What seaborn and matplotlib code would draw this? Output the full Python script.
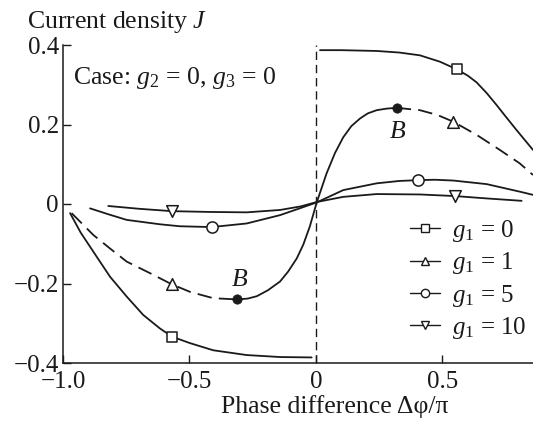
import numpy as np
import pandas as pd
import matplotlib
matplotlib.use("Agg")
import matplotlib.pyplot as plt
from matplotlib.lines import Line2D
import seaborn as sns

# ---------------- data ----------------
# g1 = 0 (solid, squares), discontinuous at 0
g0_left_x = [-0.972, -0.93, -0.880, -0.814, -0.748, -0.683, -0.617, -0.568, -0.498, -0.406, -0.274, -0.142, -0.017]
g0_left_y = [-0.023, -0.072, -0.120, -0.183, -0.233, -0.279, -0.313, -0.334, -0.350, -0.368, -0.380, -0.385, -0.386]
g0_right_x = [0.016, 0.10, 0.24, 0.33, 0.411, 0.49, 0.556, 0.60, 0.635, 0.675, 0.714, 0.75, 0.793, 0.858]
g0_right_y = [0.387, 0.387, 0.385, 0.381, 0.374, 0.358, 0.339, 0.323, 0.306, 0.279, 0.249, 0.220, 0.186, 0.136]

# g1 = 1 (dashed outside B points, solid between)
g1_left_x = [-0.966, -0.880, -0.814, -0.748, -0.656, -0.570, -0.498, -0.406, -0.313]
g1_left_y = [-0.023, -0.078, -0.112, -0.145, -0.174, -0.202, -0.221, -0.237, -0.240]
g1_mid_x = [-0.313, -0.27, -0.234, -0.19, -0.142, -0.11, -0.076, -0.05, -0.024, 0.003,
            0.042, 0.075, 0.108, 0.14, 0.174, 0.205, 0.240, 0.28, 0.319]
g1_mid_y = [-0.240, -0.238, -0.232, -0.217, -0.195, -0.170, -0.137, -0.102, -0.056, 0.004,
            0.077, 0.128, 0.168, 0.196, 0.215, 0.228, 0.236, 0.240, 0.242]
g1_right_x = [0.319, 0.411, 0.48, 0.543, 0.635, 0.727, 0.806, 0.858]
g1_right_y = [0.242, 0.236, 0.224, 0.207, 0.174, 0.136, 0.102, 0.073]

# g1 = 5 (solid, circles)
g5_x = [-0.893, -0.82, -0.748, -0.617, -0.538, -0.412, -0.274, -0.142, -0.06, 0.003, 0.108, 0.24, 0.33, 0.405, 0.47, 0.543, 0.675, 0.806, 0.858]
g5_y = [-0.011, -0.026, -0.040, -0.051, -0.056, -0.058, -0.049, -0.028, -0.010, 0.004, 0.035, 0.052, 0.058, 0.060, 0.061, 0.059, 0.050, 0.031, 0.023]

# g1 = 10 (solid, down-triangles)
g10_x = [-0.821, -0.70, -0.570, -0.420, -0.274, -0.142, -0.06, 0.003, 0.108, 0.24, 0.411, 0.549, 0.675, 0.813]
g10_y = [-0.005, -0.012, -0.018, -0.020, -0.021, -0.015, -0.006, 0.005, 0.018, 0.025, 0.024, 0.020, 0.014, 0.008]

# marker positions
sq_x, sq_y = [-0.568, 0.556], [-0.334, 0.339]
tri_x, tri_y = [-0.570, 0.543], [-0.202, 0.207]
circ_x, circ_y = [-0.412, 0.405], [-0.058, 0.060]
tdn_x, tdn_y = [-0.570, 0.549], [-0.018, 0.020]
B_x, B_y = [-0.313, 0.319], [-0.240, 0.242]

legend_labels = ["$g_1$ = 0", "$g_1$ = 1", "$g_1$ = 5", "$g_1$ = 10"]
legend_markers = ["s", "^", "o", "v"]

xticks = [-1.0, -0.5, 0.0, 0.5]
xticklabels = ["\u22121.0", "\u22120.5", "0", "0.5"]
yticks = [-0.4, -0.2, 0.0, 0.2, 0.4]
yticklabels = ["\u22120.4", "\u22120.2", "0", "0.2", "0.4"]

# ---------------- style ----------------
sns.set_style("ticks")
plt.rcParams["font.family"] = ["Liberation Serif", "DejaVu Serif"]
plt.rcParams["mathtext.fontset"] = "custom"
plt.rcParams["mathtext.rm"] = "Liberation Serif"
plt.rcParams["mathtext.it"] = "Liberation Serif:italic"
plt.rcParams["axes.unicode_minus"] = True

INK = "#1a1a1a"
FS = 18.5
TFS = 18
LW = 1.3

fig = plt.figure(figsize=(5.33, 4.21), dpi=100)
ax = fig.add_axes([63 / 533, 1 - 363 / 421, 1 - 63 / 533, (363 - 45) / 421])


def line(x, y, ls="-"):
    sns.lineplot(x=x, y=y, ax=ax, sort=False, estimator=None, color=INK,
                 linewidth=LW, linestyle=ls, legend=False)


dash = (0, (8, 4))
line(g0_left_x, g0_left_y)
line(g0_right_x, g0_right_y)
line(g1_left_x, g1_left_y, dash)
line(g1_mid_x, g1_mid_y)
line(g1_right_x, g1_right_y, dash)
line(g5_x, g5_y)
line(g10_x, g10_y)

ax.axvline(0, color=INK, lw=1.0, ls=(0, (6, 3.5)), zorder=1)

mk = dict(ax=ax, color="white", edgecolor=INK, linewidth=1.1, zorder=5, legend=False)
sns.scatterplot(x=sq_x, y=sq_y, marker="s", s=60, **mk)
sns.scatterplot(x=tri_x, y=tri_y, marker="^", s=70, **mk)
sns.scatterplot(x=circ_x, y=circ_y, marker="o", s=65, **mk)
sns.scatterplot(x=tdn_x, y=tdn_y, marker="v", s=70, **mk)
sns.scatterplot(x=B_x, y=B_y, marker="o", s=45, ax=ax, color=INK, edgecolor=INK,
                zorder=6, legend=False)

ax.text(B_x[0] + 0.01, B_y[0] + 0.05, "B", fontsize=FS, style="italic", color=INK,
        ha="center", va="center")
ax.text(B_x[1] + 0.005, B_y[1] - 0.06, "B", fontsize=FS, style="italic", color=INK,
        ha="center", va="center")

ax.set_xlim(-1.0, 0.858)
ax.set_ylim(-0.4, 0.4)
ax.set_xticks(xticks)
ax.set_xticklabels(xticklabels)
ax.set_yticks(yticks)
ax.set_yticklabels(yticklabels)
ax.tick_params(direction="in", length=6, width=1.0, color=INK, labelsize=TFS,
               labelcolor=INK)
ax.tick_params(axis="x", pad=6)
ax.tick_params(axis="y", pad=3)
for s in ["top", "right"]:
    ax.spines[s].set_visible(False)
for s in ["left", "bottom"]:
    ax.spines[s].set_linewidth(1.1)
    ax.spines[s].set_color(INK)
ax.set_xlabel("")
ax.set_ylabel("")

ax.text(0.022, 0.895, "Case: $g_2$ = 0, $g_3$ = 0", transform=ax.transAxes,
        fontsize=FS, color=INK, ha="left", va="center")

fig.text(27 / 533, 1 - 28 / 421, "Current density $J$", fontsize=FS, color=INK,
         ha="left", va="baseline")
fig.text(221 / 533, 1 - 413 / 421, "Phase difference \u0394\u03c6/\u03c0", fontsize=FS,
         color=INK, ha="left", va="baseline")

handles = [Line2D([], [], color=INK, lw=1.0, marker=m, markersize=6,
                  markerfacecolor="white", markeredgecolor=INK, markeredgewidth=1.0)
           for m in legend_markers]
fig.legend(handles, legend_labels, loc="center left",
           bbox_to_anchor=(410 / 533, 1 - 279.5 / 421), bbox_transform=fig.transFigure,
           frameon=False, fontsize=18, handlelength=1.2, handletextpad=0.5,
           labelspacing=0.25, borderpad=0, borderaxespad=0, labelcolor=INK)

fig.savefig("out.png", dpi=100)
